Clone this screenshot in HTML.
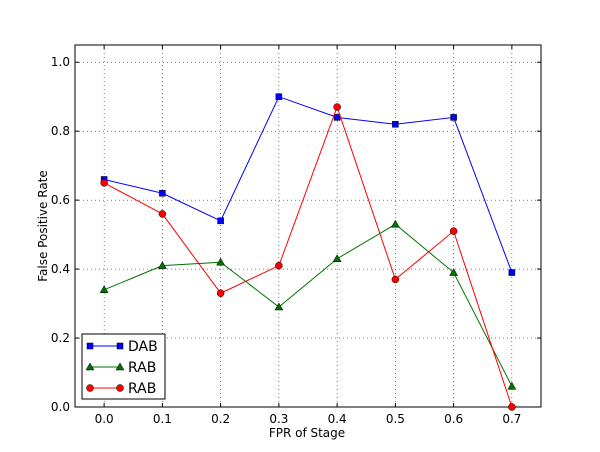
<!DOCTYPE html>
<html><head><meta charset="utf-8"><style>
body{margin:0;background:#fff;}
svg{display:block;font-family:"DejaVu Sans","Liberation Sans",sans-serif;}
</style></head><body>
<svg id="chart" width="600" height="452" xmlns="http://www.w3.org/2000/svg">
<rect width="600" height="452" fill="#fff"/>
<g id="grid"></g>
<g id="axes"></g>
<g id="series"></g>
<text x="307" y="437" font-size="12" text-anchor="middle">FPR of Stage</text>
<text transform="translate(47,226) rotate(-90)" font-size="12" text-anchor="middle">False Positive Rate</text>
<g id="legend"></g>
</svg>
<script>
const xCats=[0.0,0.1,0.2,0.3,0.4,0.5,0.6,0.7];
const dab=[0.66,0.62,0.54,0.90,0.84,0.82,0.84,0.39];
const rabGreen=[0.34,0.41,0.42,0.29,0.43,0.53,0.39,0.06];
const rabRed=[0.65,0.56,0.33,0.41,0.87,0.37,0.51,0.0];
const xTicks=["0.0","0.1","0.2","0.3","0.4","0.5","0.6","0.7"];
const yTicks=["0.0","0.2","0.4","0.6","0.8","1.0"];
const L=75,R=541,T=45,B=407;
const xs=v=>L+(v+0.05)/0.8*(R-L);
const ys=v=>B-v/1.05*(B-T);
const NS="http://www.w3.org/2000/svg";
function mk(p,t,a){const e=document.createElementNS(NS,t);for(const k in a)e.setAttribute(k,a[k]);p.appendChild(e);return e;}
const grid=document.getElementById('grid'),axes=document.getElementById('axes');
xTicks.forEach((t,i)=>{const x=xs(parseFloat(t));
 const g=mk(grid,'line',{x1:x,x2:x,y1:T,y2:B,stroke:'#000','stroke-width':0.5,'stroke-dasharray':'1,3'});
 
 mk(axes,'line',{x1:x,x2:x,y1:B,y2:B-4,stroke:'#000'});mk(axes,'line',{x1:x,x2:x,y1:T,y2:T+4,stroke:'#000'});
 const tx=mk(axes,'text',{x:x,y:B+16,'font-size':12,'text-anchor':'middle'});tx.textContent=t;
 });
yTicks.forEach(t=>{const y=ys(parseFloat(t));
 const g=mk(grid,'line',{x1:L,x2:R,y1:y,y2:y,stroke:'#000','stroke-width':0.5,'stroke-dasharray':'1,3'});
 
 mk(axes,'line',{x1:L,x2:L+4,y1:y,y2:y,stroke:'#000'});mk(axes,'line',{x1:R,x2:R-4,y1:y,y2:y,stroke:'#000'});
 const tx=mk(axes,'text',{x:L-5,y:y+4,'font-size':12,'text-anchor':'end'});tx.textContent=t;
 });
const frame=mk(axes,'rect',{x:L,y:T,width:R-L,height:B-T,fill:'none',stroke:'#000'});

const ser=document.getElementById('series');
function marker(p,type,x,y,c){
 if(type==='s')return mk(p,'rect',{x:x-3,y:y-3,width:6,height:6,fill:c,stroke:'#000','stroke-width':0.5});
 if(type==='^')return mk(p,'polygon',{points:`${x},${y-4} ${x-4},${y+3} ${x+4},${y+3}`,fill:c,stroke:'#000','stroke-width':0.5});
 return mk(p,'circle',{cx:x,cy:y,r:3.5,fill:c,stroke:'#000','stroke-width':0.5});}
const defs=[[dab,'#0000ff','s','dab'],[rabGreen,'#007000','^','rab-green'],[rabRed,'#ff0000','o','rab-red']];
defs.forEach(([d,c,m,n])=>{
 const g=mk(ser,'g',{});
 const pl=mk(g,'polyline',{points:d.map((v,i)=>xs(xCats[i])+','+ys(v)).join(' '),fill:'none',stroke:c,'stroke-width':1});
 
 d.forEach((v,i)=>{const mm=marker(g,m,xs(xCats[i]),ys(v),c);});});
const lg=document.getElementById('legend');
mk(lg,'rect',{x:82,y:334,width:83,height:65,fill:'#fff',stroke:'#000'});
[['DAB','#0000ff','s'],['RAB','#007000','^'],['RAB','#ff0000','o']].forEach(([t,c,m],i)=>{
 const y=346+i*21;const e=mk(lg,'g',{});
 mk(e,'line',{x1:90,x2:120,y1:y,y2:y,stroke:c});marker(e,m,90,y,c);marker(e,m,120,y,c);
 const tx=mk(e,'text',{x:128,y:y+5,'font-size':14});tx.textContent=t;});
</script>
</body></html>
